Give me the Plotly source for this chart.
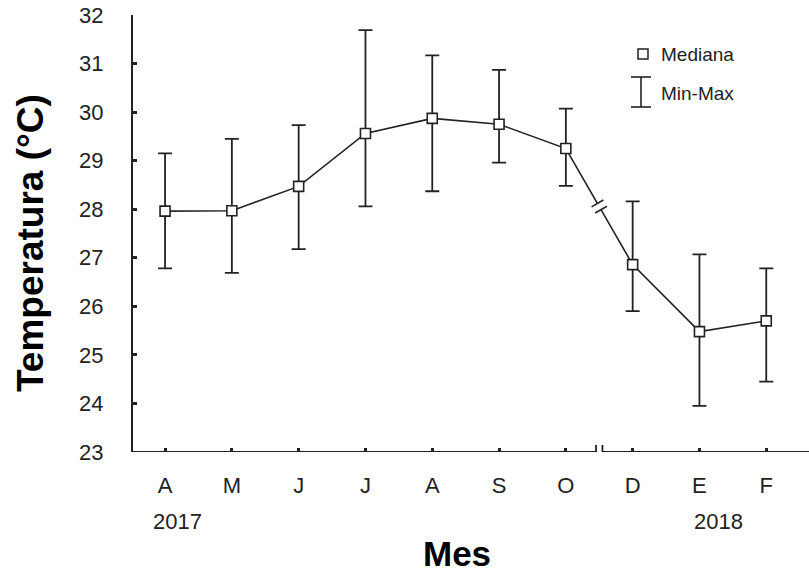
import plotly.graph_objects as go

# ---- data ----
months = ["A", "M", "J", "J", "A", "S", "O", "D", "E", "F"]
median = [27.96, 27.97, 28.47, 29.56, 29.87, 29.75, 29.25, 26.86, 25.48, 25.70]
t_min = [26.78, 26.69, 27.18, 28.06, 28.37, 28.96, 28.48, 25.90, 23.95, 24.45]
t_max = [29.15, 29.45, 29.73, 31.69, 31.17, 30.87, 30.07, 28.16, 27.07, 26.78]
year_labels = ["2017", "2018"]
year_at = [0, 8]          # index of month under which the year is written
y_ticks = [23, 24, 25, 26, 27, 28, 29, 30, 31, 32]
break_after = 6           # axis break between O and D

# ---- layout constants ----
W, H = 809, 574
ML, MR, MT, MB = 133, 0, 15, 122
PW, PH = W - ML - MR, H - MT - MB
XMIN, XMAX = -0.48, 9.64
YMIN, YMAX = 23, 32
PXX = PW / (XMAX - XMIN)
PXY = PH / (YMAX - YMIN)
INK = "#222222"
FONT = "Liberation Sans, Arial, sans-serif"

def px2paper(px, py):
    """page pixel -> paper coords"""
    return (px - ML) / PW, (H - MB - py) / PH

x = list(range(len(months)))
err_plus = [hi - m for hi, m in zip(t_max, median)]
err_minus = [m - lo for lo, m in zip(t_min, median)]

fig = go.Figure()
fig.add_trace(go.Scatter(
    x=x, y=median, mode="lines+markers",
    line=dict(color=INK, width=1.6),
    marker=dict(symbol="square", size=10, color="white",
                line=dict(color=INK, width=1.6)),
    error_y=dict(type="data", symmetric=False, array=err_plus,
                 arrayminus=err_minus, color=INK, thickness=1.8, width=7),
    showlegend=False, hoverinfo="skip",
))

shapes = []
# x axis line with break
xb = break_after + 0.5
gap = 3.2 / PXX
bar = 7 / PXY
shapes.append(dict(type="line", xref="x", yref="y", x0=XMIN, x1=xb - gap,
                   y0=YMIN, y1=YMIN, line=dict(color=INK, width=2)))
shapes.append(dict(type="line", xref="x", yref="y", x0=xb + gap, x1=XMAX,
                   y0=YMIN, y1=YMIN, line=dict(color=INK, width=2)))
for s in (-1, 1):
    shapes.append(dict(type="line", xref="x", yref="y", x0=xb + s * gap,
                       x1=xb + s * gap, y0=YMIN - bar, y1=YMIN + bar,
                       line=dict(color=INK, width=1.8)))

# break on the connecting line between O and D
i0, i1 = break_after, break_after + 1
xm = (x[i0] + x[i1]) / 2
ym = (median[i0] + median[i1]) / 2
dxp = (x[i1] - x[i0]) * PXX
dyp = -(median[i1] - median[i0]) * PXY  # screen down positive
L = (dxp ** 2 + dyp ** 2) ** 0.5
ux, uy = dxp / L, dyp / L
nx, ny = uy, -ux
g, hl = 3.6, 6.8

def off(px_, py_):
    return px_ / PXX, -py_ / PXY

ax_, ay_ = off(-g * ux, -g * uy)
bx_, by_ = off(g * ux, g * uy)
shapes.append(dict(type="line", xref="x", yref="y", x0=xm + ax_, y0=ym + ay_,
                   x1=xm + bx_, y1=ym + by_, line=dict(color="white", width=5)))
for s in (-1, 1):
    cx, cy = off(s * g * ux, s * g * uy)
    ex, ey = off(hl * nx, hl * ny)
    shapes.append(dict(type="line", xref="x", yref="y",
                       x0=xm + cx - ex, y0=ym + cy - ey,
                       x1=xm + cx + ex, y1=ym + cy + ey,
                       line=dict(color=INK, width=1.6)))

# legend (drawn)
sx, sy = px2paper(638, 49)
sx2, sy2 = px2paper(648, 59)
shapes.append(dict(type="rect", xref="paper", yref="paper", x0=sx, x1=sx2,
                   y0=sy2, y1=sy, line=dict(color=INK, width=1.5),
                   fillcolor="white"))
vx, vt = px2paper(641, 77)
_, vb = px2paper(641, 107)
cl, _ = px2paper(631, 0)
cr, _ = px2paper(651, 0)
shapes.append(dict(type="line", xref="paper", yref="paper", x0=vx, x1=vx,
                   y0=vb, y1=vt, line=dict(color=INK, width=1.6)))
for yy in (vt, vb):
    shapes.append(dict(type="line", xref="paper", yref="paper", x0=cl, x1=cr,
                       y0=yy, y1=yy, line=dict(color=INK, width=1.6)))

annotations = []
tx, ty = px2paper(659, 54)
annotations.append(dict(text="Mediana", xref="paper", yref="paper", x=tx, y=ty,
                        xanchor="left", yanchor="middle", showarrow=False,
                        font=dict(size=19, color=INK, family=FONT)))
tx, ty = px2paper(659, 94)
annotations.append(dict(text="Min-Max", xref="paper", yref="paper", x=tx, y=ty,
                        xanchor="left", yanchor="middle", showarrow=False,
                        font=dict(size=19, color=INK, family=FONT)))
# year labels
for lab, idx, xs in zip(year_labels, year_at, (12, 19)):
    _, yy = px2paper(0, 521)
    annotations.append(dict(text=lab, xref="x", yref="paper", x=x[idx], y=yy,
                            xshift=xs, xanchor="center", yanchor="middle",
                            showarrow=False,
                            font=dict(size=22, color=INK, family=FONT)))
# axis titles
tx, ty = px2paper(30, 243)
annotations.append(dict(text="<b>Temperatura (°C)</b>", xref="paper",
                        yref="paper", x=tx, y=ty, textangle=-90,
                        xanchor="center", yanchor="middle", showarrow=False,
                        font=dict(size=37, color="black", family=FONT)))
tx, ty = px2paper(457, 553)
annotations.append(dict(text="<b>Mes</b>", xref="paper", yref="paper",
                        x=tx, y=ty, xanchor="center", yanchor="middle",
                        showarrow=False,
                        font=dict(size=35, color="black", family=FONT)))

fig.update_layout(
    width=W, height=H,
    margin=dict(l=ML, r=MR, t=MT, b=MB, pad=0),
    paper_bgcolor="white", plot_bgcolor="white",
    shapes=shapes, annotations=annotations,
    font=dict(family=FONT, color=INK),
    xaxis=dict(range=[XMIN, XMAX], tickmode="array", tickvals=x,
               ticktext=months, ticks="inside", ticklen=4, tickwidth=3,
               tickcolor=INK, showline=False, showgrid=False, zeroline=False,
               tickfont=dict(size=22, color=INK), ticklabelstandoff=18),
    yaxis=dict(range=[YMIN, YMAX], tickmode="array", tickvals=y_ticks,
               ticks="inside", ticklen=4, tickwidth=3, tickcolor=INK,
               showline=True, linecolor=INK, linewidth=2, showgrid=False,
               zeroline=False, tickfont=dict(size=22, color=INK),
               ticklabelstandoff=23),
)

fig.write_html("out.html",
               config={"displayModeBar": False, "staticPlot": True},
               post_script="document.body.style.margin='0';"
                           "document.body.style.overflow='hidden';")
